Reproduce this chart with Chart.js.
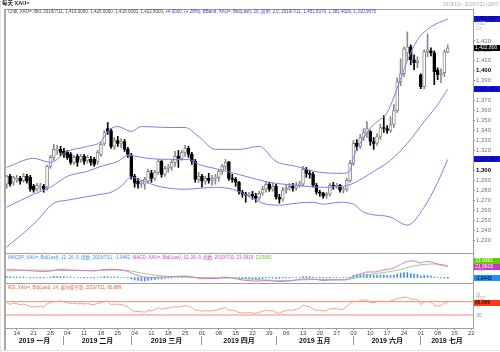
<!DOCTYPE html>
<html><head><meta charset="utf-8">
<script src="https://cdn.jsdelivr.net/npm/chart.js@4.4.1/dist/chart.umd.min.js"></script>
<style>
html,body{margin:0;padding:0;background:#fff;}
#wrap{position:relative;width:500px;height:352px;overflow:hidden;font-family:'Liberation Sans','Noto Sans CJK SC',sans-serif;}
canvas{position:absolute;left:0;top:0;}
.t{position:absolute;white-space:nowrap;line-height:1;}
</style></head><body>
<div id="wrap">
<canvas id="c" width="500" height="352"></canvas>
<div class="t" style="left:2px;top:1px;font-size:5.5px;font-weight:bold;color:#222">每天 XAU=</div>
<div class="t" style="right:1px;top:2.5px;font-size:4.5px;color:#aaa">2019/1/9 - 2019/7/22 (GMT)</div>
<div class="t" style="left:8px;top:9.5px;font-size:4.5px;color:#444">Cndl, XAU=, Bid, 2019/7/11, 1,419.0000, 1,426.0000, 1,418.0000, 1,422.8000, <span style="color:#3a3ae0">+4.0000, (+.28%), BBand, XAU=, Bid(Last), 20, 简单, 2.0, 2019/7/11, 1,451.8376, 1,381.4026, 1,310.9675</span></div>
<div class="t" style="left:8px;top:255.5px;font-size:4.5px;color:#3b8fe8">MACDP, XAU=, Bid(Last), 12, 26, 9, 指数, 2019/7/11, -1.9442, <span style="color:#d040d0">MACD, XAU=, Bid(Last), 12, 26, 9, 指数, 2019/7/11, 21.9919, </span><span style="color:#66bb22">23.9361</span></div>
<div class="t" style="left:8px;top:285.5px;font-size:4.5px;color:#f05a3a">RSI, XAU=, Bid(Last), 14, 威尔德平滑, 2019/7/11, 66.889</div>
</div>
<script>
// ---------- data ----------
const opens  = [1286,1294,1288,1291,1292,1290,1294,1293,1284,1281,1283,1284,1283,1304,1313,1320,1321,1319,1318,1316,
1308,1314,1311,1314,1310,1311,1311,1309,1316,1327,1342,1340,1324,1330,1327,1329,1321,1315,1294,1289,
1286,1286,1289,1297,1292,1298,1309,1296,1302,1303,1308,1314,1312,1318,1322,1316,1309,1291,1294,1289,
1292,1290,1292,1293,1299,1304,1308,1292,1291,1288,1278,1276,1275,1276,1274,1272,1277,1281,1286,1281,
1284,1273,1271,1280,1282,1284,1282,1285,1286,1301,1297,1296,1285,1278,1277,1274,1276,1285,1284,1285,
1280,1281,1290,1307,1327,1324,1333,1338,1339,1329,1327,1334,1343,1342,1340,1346,1360,1389,1397,1418,
1424,1411,1408,1396,1384,1419,1420,1418,1401,1396,1398,1419];
const highs  = [1295,1296,1294,1295,1294,1297,1296,1295,1286,1287,1287,1286,1305,1315,1326,1325,1324,1322,1320,1318,
1315,1316,1316,1316,1315,1314,1313,1320,1328,1340,1348,1342,1333,1334,1332,1331,1323,1317,1296,1292,
1290,1293,1301,1300,1300,1311,1310,1304,1306,1310,1319,1320,1320,1325,1324,1318,1311,1298,1296,1294,
1297,1295,1296,1301,1306,1311,1309,1296,1293,1289,1280,1278,1278,1279,1277,1279,1284,1289,1288,1287,
1286,1276,1283,1285,1287,1287,1288,1289,1304,1303,1300,1298,1287,1280,1278,1278,1287,1288,1287,1286,
1283,1292,1310,1330,1331,1336,1342,1349,1340,1333,1337,1346,1355,1345,1354,1366,1393,1412,1424,1439,
1426,1416,1414,1397,1421,1437,1423,1420,1403,1402,1421,1426];
const lows   = [1282,1284,1285,1288,1286,1288,1287,1279,1278,1279,1280,1278,1280,1302,1310,1316,1315,1313,1311,1306,
1306,1304,1308,1306,1307,1305,1304,1306,1314,1325,1336,1322,1321,1324,1323,1319,1313,1291,1283,1282,
1283,1281,1287,1288,1290,1296,1293,1294,1298,1300,1304,1303,1310,1314,1313,1306,1288,1288,1283,1286,
1287,1285,1286,1289,1296,1301,1290,1288,1284,1276,1273,1268,1273,1271,1268,1270,1275,1278,1279,1279,
1271,1267,1269,1277,1280,1279,1280,1283,1284,1293,1292,1283,1276,1274,1272,1272,1274,1281,1282,1278,
1277,1279,1288,1305,1320,1322,1330,1333,1325,1321,1325,1331,1338,1337,1338,1343,1358,1385,1394,1410,
1406,1401,1403,1382,1382,1414,1415,1386,1391,1388,1394,1418];
const closes = [1294,1286,1293,1292,1289,1294,1289,1281,1280,1285,1284,1281,1304,1313,1321,1321,1318,1316,1313,1308,
1313,1308,1314,1309,1313,1308,1306,1318,1326,1338,1339,1324,1330,1327,1329,1321,1316,1294,1287,1286,
1287,1291,1299,1292,1298,1309,1296,1302,1303,1308,1314,1312,1318,1322,1316,1309,1291,1294,1289,1292,
1290,1292,1293,1299,1304,1308,1292,1291,1288,1278,1276,1275,1276,1274,1272,1277,1281,1286,1281,1284,
1273,1271,1280,1282,1284,1282,1285,1286,1301,1297,1296,1285,1278,1277,1274,1276,1285,1284,1285,1280,
1281,1290,1307,1327,1324,1333,1338,1342,1329,1327,1334,1343,1342,1340,1346,1360,1389,1397,1422,1424,
1411,1408,1410,1384,1419,1421,1418,1399,1396,1398,1419,1422.8];

// Bollinger band (20, 2.0) values at these candle indices
const upperIdx = [0,8,13,18,24,28,30,33,37,40,48,53,57,62,69,75,80,86,93,100,102,103,106,109,113,117,119,122,126,131];
const upperBand = [1303,1312,1308,1319,1324,1329,1339,1344,1339,1344,1343,1343,1334,1321,1321,1324,1309,1304,1298,1297,1300,1313,1333,1346,1358,1392,1410,1431,1444,1451.84];
const middleIdx = [0,8,13,18,24,28,33,36,42,48,54,57,63,71,78,86,94,100,103,109,114,119,124,128,131];
const middleBand = [1263,1276,1283,1294,1299,1304,1309,1315,1312,1311,1311,1306,1301,1294,1288,1285,1283,1284,1287,1299,1310,1327,1349,1366,1381.4];
const lowerIdx = [0,8,14,18,28,31,34,37,40,45,53,62,67,72,76,81,86,91,94,99,103,106,114,119,124,128,131];
const lowerBand = [1223,1246,1267,1270,1276,1278,1284,1293,1290,1284,1281,1283,1281,1274,1267,1265,1267,1268,1266,1268,1266,1258,1253,1245,1263,1288,1310.97];

// MACD (12,26,9)
const macdIdx = [0,4,8,11,13,16,19,23,26,29,31,34,36,37,39,41,43,46,50,53,56,58,62,65,67,70,74,77,81,84,88,91,94,97,100,102,103,105,107,109,112,115,117,119,121,123,124,125,127,129,131];
const macdLine = [16,15,13,12,13,16,15,14,13,16,16,15,12,9,4,1,0,1,2,3,0,-2,-2,0,-1,-5,-7,-6,-8,-7,-3,-3,-6,-5,-5,-2,3,7,11,11,15,19,26,32,33,29,31,32,29,25,21.99];
const signalIdx = [0,8,18,28,33,37,40,45,48,53,57,62,67,72,77,82,87,92,97,102,105,108,112,117,120,124,127,129,131];
const signalLine = [13,15,14,14,15,13,9,4,2,1,0,-1,-1,-3,-5,-6,-5,-4,-4,-3,1,6,10,16,22,26,27,26,23.94];
const macdHist = [2,2,1,1,1,1,0,-1,-1,-1,-1,-1,
0,1,2,2,2, 2,1,1,0,0,0, -1,-1,-1,-1,0, 1,2,2,1,1, 1,0,0,-1,
-3,-5,-6,-7,-7, -6,-5,-4,-3,-3,-2, -1,-1,0,0,1, 2,2,1,0,-1, -1,-1,-1,-1,-1,
0,1,1,0,0, -1,-2,-3,-3,-3, -3,-3,-2,-2,-1, -1,-1,-2,-2,-1, -1,-1,0,0,0,
2,2,2,1,0, -1,-1,-1,-1,0, 0,0,0,0,1, 4,5,6,7,7, 6,5,5,5,5, 4,4,5,7,9,
10,10,8,7,6, 3,4,4,3,1, 0,-1,-1,-1.9442];

// RSI (14)
const rsi = [67,62,65,64,61,63,59,55,54,56,55,54,
64,67,70,70,73,70,67,64,66,63,65,63,64,62,61,65,
67,71,72,61,63,62,62,58,55,45,41,40,40,38,
44,42,47,52,47,50,51,53,55,54,56,58,56,52,
44,45,41,43,42,43,44,47,50,52,45,44,42,37,
36,37,37,36,35,38,41,45,42,44,37,35,41,43,
45,44,47,50,60,56,55,48,44,44,42,43,49,49,
50,46,47,55,64,72,70,73,75,75,68,67,70,72,
71,70,72,75,80,81,83,83,78,77,78,61,69,70,
69,59,57,58,66,66.889];
const rsiLevels = [70, 30];

// axis labels
const nSlots = 139; // 132 trading days + empty days to 2019/7/22
const mondayIdx = [3,8,13,18,23,28,33,38,43,48,53,58,63,68,73,78,83,88,93,98,103,108,113,118,123,128,133,138];
const mondayLabels = ['14','21','28','04','11','18','25','04','11','18','25','01','08','15','22','29','06','13','20','27','03','10','17','24','01','08','15','22'];
const monthFirstIdx = [17,37,58,80,103,123];
const monthNames = ['2019 一月','2019 二月','2019 三月','2019 四月','2019 五月','2019 六月','2019 七月'];
const priceTicks = [1230,1240,1250,1260,1270,1280,1290,1300,1310,1320,1330,1340,1350,1360,1370,1380,1390,1400,1410,1420,1430];

// ---------- build ----------
const FAM = "'Liberation Sans','Noto Sans CJK SC',sans-serif";
const xMin = -0.5, xMax = nSlots - 0.5;
const pts = (idx, vals) => idx.map((x, k) => ({x, y: vals[k]}));
const bull = i => closes[i] >= opens[i];
const wickData = opens.map((o, i) => ({x: i, y: [lows[i], highs[i]]}));
const bodyData = opens.map((o, i) => ({x: i, y: [o, closes[i]]}));
const bounds = [xMin, ...monthFirstIdx, xMax];
const monthCenters = monthNames.map((n, k) => (bounds[k] + bounds[k + 1]) / 2);

const lineDs = (data, color, axis, order) => ({type: 'line', data, yAxisID: axis, borderColor: color, borderWidth: 1,
  pointRadius: 0, cubicInterpolationMode: 'monotone', order, fill: false});

const boxes = [
  {axis: 'yMain', v: 1451.8376, t: '1,451.837', bg: '#1414e0', fg: '#000050'},
  {axis: 'yMain', v: 1422.8, t: '1,422.800', bg: '#000', fg: '#fff'},
  {axis: 'yMain', v: 1381.4026, t: '1,381.403', bg: '#1414e0', fg: '#000050'},
  {axis: 'yMain', v: 1310.9675, t: '1,310.968', bg: '#1414e0', fg: '#000050'},
  {axis: 'yMacd', v: 23.9361, t: '23.9361', bg: '#6c0', fg: '#fff', shift: -5},
  {axis: 'yMacd', v: 21.9919, t: '21.9919', bg: '#c3c', fg: '#fff'},
  {axis: 'yMacd', v: -1.9442, t: '-1.9442', bg: '#1e90ff', fg: '#000'},
  {axis: 'yRsi', v: 66.889, t: '66.889', bg: '#ff3a10', fg: '#000'}
];

const framePlugin = {
  id: 'frame',
  afterDraw(chart) {
    const {ctx, chartArea: ca, scales} = chart;
    ctx.save();
    ctx.strokeStyle = '#a0a0a0';
    ctx.lineWidth = 1;
    ['yMain', 'yMacd', 'yRsi'].forEach(id => {
      const s = scales[id];
      ctx.strokeRect(ca.left + 0.5, Math.round(s.top) + 0.5, ca.right - ca.left, Math.round(s.bottom - s.top));
    });
    ctx.fillStyle = '#a8a8a8';
    ctx.fillRect(ca.left - 1, ca.top, 2, chart.height - ca.top - 2);
    ctx.fillStyle = '#e4e4e4';
    ctx.fillRect(0, chart.height - 2, chart.width, 1);
    ctx.fillRect(0, 0, 1, chart.height);
    // value boxes on the right axis
    ctx.font = '5px ' + FAM;
    ctx.textBaseline = 'middle';
    boxes.forEach(b => {
      const y = scales[b.axis].getPixelForValue(b.v) + (b.shift || 0);
      ctx.fillStyle = b.bg;
      ctx.fillRect(ca.right + 1, Math.round(y - 3), chart.width - ca.right - 1, 6);
      ctx.fillStyle = b.fg;
      ctx.fillText(b.t, ca.right + 2, y);
    });
    ctx.fillStyle = '#b0b0b0';
    ctx.font = '4.5px ' + FAM;
    const m = scales.yMain, d = scales.yMacd, r = scales.yRsi;
    ctx.fillText('USD', ca.right + 3, m.top + 15);
    ctx.fillText('Oz', ca.right + 3, m.top + 20);
    ctx.fillText('USD', ca.right + 3, d.top + 17);
    ctx.fillText('值', ca.right + 3, r.top + 12);
    ctx.fillText('USD', ca.right + 3, r.top + 16);
    ctx.restore();
  }
};

new Chart(document.getElementById('c'), {
  type: 'bar',
  data: {
    datasets: [
      lineDs(pts(upperIdx, upperBand), '#7d7df5', 'yMain', 0),
      lineDs(pts(middleIdx, middleBand), '#7d7df5', 'yMain', 0),
      lineDs(pts(lowerIdx, lowerBand), '#7d7df5', 'yMain', 0),
      {type: 'bar', data: bodyData, yAxisID: 'yMain', order: 1, grouped: false, barThickness: 3, minBarLength: 1,
        backgroundColor: bodyData.map((p, i) => bull(i) ? '#fff' : '#000'),
        borderColor: bodyData.map((p, i) => bull(i) ? '#8a8a8a' : '#000'),
        borderWidth: 1, borderSkipped: false},
      {type: 'bar', data: wickData, yAxisID: 'yMain', order: 2, grouped: false, barThickness: 1,
        backgroundColor: wickData.map((p, i) => bull(i) ? '#8a8a8a' : '#000'), borderWidth: 0},
      {type: 'bar', data: macdHist.map((v, i) => ({x: i, y: v})), yAxisID: 'yMacd', order: 3, grouped: false,
        barThickness: 1, backgroundColor: '#3d8fe6', borderWidth: 0},
      lineDs(pts(macdIdx, macdLine), '#e070e0', 'yMacd', 0),
      lineDs(pts(signalIdx, signalLine), '#9ad46a', 'yMacd', 0),
      ...rsiLevels.map(v => ({type: 'line', data: [{x: xMin, y: v}, {x: xMax, y: v}], yAxisID: 'yRsi',
        borderColor: '#f08a76', borderWidth: 1, pointRadius: 0, order: 1})),
      {type: 'line', data: rsi.map((v, i) => ({x: i, y: v})), yAxisID: 'yRsi', borderColor: '#f6a08c',
        borderWidth: 1, pointRadius: 0, tension: 0, order: 0}
    ]
  },
  options: {
    responsive: false, animation: false, devicePixelRatio: 1, events: [],
    layout: {padding: {left: 5, top: 9, right: 0, bottom: 0}},
    plugins: {legend: {display: false}, tooltip: {enabled: false}},
    scales: {
      x: {
        type: 'linear', position: 'bottom', min: xMin, max: xMax, weight: 0, offset: false,
        afterBuildTicks: s => { s.ticks = mondayIdx.map(v => ({value: v})); },
        afterFit: s => { s.height = 8; },
        ticks: {autoSkip: false, maxRotation: 0, minRotation: 0, padding: 0, color: '#444',
          font: {size: 6, family: FAM}, callback: (v, i) => mondayLabels[i]},
        grid: {offset: false, drawOnChartArea: false, tickLength: 2, color: '#888'},
        border: {display: false}
      },
      xm: {
        type: 'linear', position: 'bottom', min: xMin, max: xMax, weight: 1, offset: false,
        afterBuildTicks: s => {
          const t = monthFirstIdx.map(v => ({value: v, sep: true}))
            .concat(monthCenters.map((v, k) => ({value: v, name: monthNames[k]})));
          t.sort((a, b) => a.value - b.value);
          s.ticks = t;
        },
        afterFit: s => { s.height = 16; },
        ticks: {autoSkip: false, maxRotation: 0, minRotation: 0, padding: -8, color: '#111',
          font: {size: 7, weight: 'bold', family: FAM},
          callback: (v, i, t) => t[i].sep ? '' : t[i].name},
        grid: {offset: false, drawOnChartArea: false, tickLength: 9,
          color: c => (c.tick && c.tick.sep) ? '#999' : 'rgba(0,0,0,0)'},
        border: {display: false}
      },
      yMain: {
        type: 'linear', position: 'right', stack: 'p', stackWeight: 244, min: 1217, max: 1462,
        afterBuildTicks: s => { s.ticks = priceTicks.map(v => ({value: v})); },
        afterFit: s => { s.width = 27; },
        ticks: {autoSkip: false, padding: 1,
          color: c => c.tick && c.tick.value % 100 === 0 ? '#000' : '#777',
          font: c => ({size: 6, family: FAM, weight: (c.tick && c.tick.value % 100 === 0) ? 'bold' : 'normal'}),
          callback: v => v.toLocaleString('en-US')},
        grid: {drawOnChartArea: false, tickLength: 2, color: '#888'},
        border: {color: '#888'}
      },
      yMacd: {
        type: 'linear', position: 'right', stack: 'p', stackWeight: 30, min: -11, max: 49,
        afterFit: s => { s.width = 27; },
        ticks: {display: false}, grid: {display: false}, border: {color: '#888'}
      },
      yRsi: {
        type: 'linear', position: 'right', stack: 'p', stackWeight: 45, min: -9, max: 126,
        afterBuildTicks: s => { s.ticks = [{value: 30}]; },
        afterFit: s => { s.width = 27; },
        ticks: {padding: 3, color: '#999', font: {size: 5.5, family: FAM}},
        grid: {drawOnChartArea: false, tickLength: 0, color: '#888'},
        border: {color: '#888'}
      }
    }
  },
  plugins: [framePlugin]
});
</script>
</body></html>
